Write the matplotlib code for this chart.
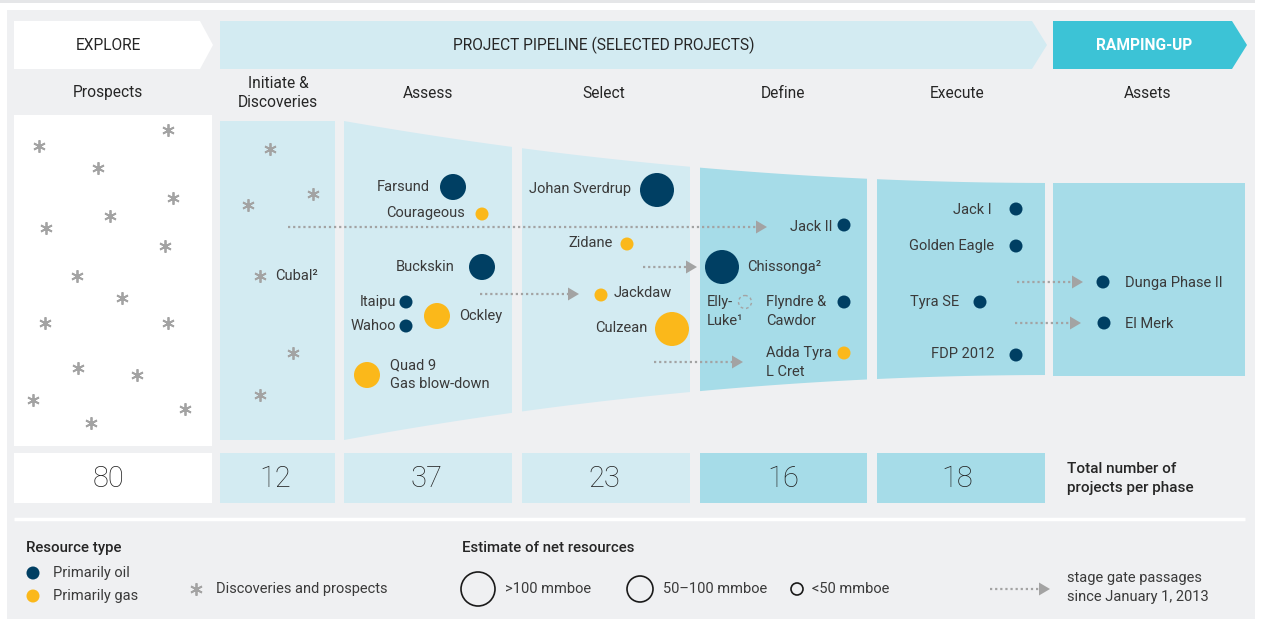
import numpy as np
import matplotlib.pyplot as plt
from matplotlib.patches import Polygon, Rectangle, Circle

plt.rcParams['font.family'] = ['Roboto', 'DejaVu Sans']

# ---- data ----
stages = ['EXPLORE', 'PROJECT PIPELINE (SELECTED PROJECTS)', 'RAMPING-UP']
phases = ['Prospects', 'Initiate &\nDiscoveries', 'Assess', 'Select', 'Define', 'Execute', 'Assets']
phase_counts = [80, 12, 37, 23, 16, 18]

proj_names = ['Farsund', 'Courageous', 'Buckskin', 'Itaipu', 'Wahoo', 'Ockley',
              'Quad 9\nGas blow-down', 'Johan Sverdrup', 'Zidane', 'Jackdaw', 'Culzean',
              'Jack II', 'Chissonga²', 'Elly-\nLuke¹', 'Flyndre &\nCawdor', 'Adda Tyra\nL Cret',
              'Jack I', 'Golden Eagle', 'Tyra SE', 'FDP 2012', 'Dunga Phase II', 'El Merk']
proj_type = ['oil', 'gas', 'oil', 'oil', 'oil', 'gas', 'gas', 'oil', 'gas', 'gas', 'gas',
             'oil', 'oil', 'n/a', 'oil', 'gas', 'oil', 'oil', 'oil', 'oil', 'oil', 'oil']
proj_size = ['mid', 'small', 'mid', 'small', 'small', 'mid', 'mid', 'large', 'small', 'small', 'large',
             'small', 'large', 'small', 'small', 'small', 'small', 'small', 'small', 'small', 'small', 'small']

size_labels = ['>100 mmboe', '50\u2013100 mmboe', '<50 mmboe']

# ---- layout (pixels) ----
W, H = 1262, 619
col_x = [(14, 212), (220, 335), (344, 512), (522, 690), (700, 867), (877, 1045), (1053, 1245)]
title_x = [108, 278, 428, 604, 783, 957, 1148]
count_x = [108, 275, 427, 604, 783, 957]
proj_xy = [(453, 187), (482, 214), (482, 267), (406, 302), (406, 326), (437, 316), (367, 375),
           (657, 190), (627, 244), (601, 295), (672, 329),
           (844, 225), (722, 267), (745, 302), (844, 302), (844, 353),
           (1016, 209), (1016, 246), (980, 302), (1016, 355), (1103, 282), (1104, 323)]
label_xy = [(430, 187, 'right'), (465, 213, 'right'), (455, 267, 'right'), (396, 302, 'right'),
            (396, 326, 'right'), (459, 316, 'left'), (390, 365, 'left'),
            (631, 189, 'right'), (613, 243, 'right'), (614, 293, 'left'), (647, 328, 'right'),
            (832, 227, 'right'), (747, 267, 'left'), (707, 302, 'left'), (766, 302, 'left'),
            (766, 353, 'left'), (992, 210, 'right'), (994, 246, 'right'), (959, 302, 'right'),
            (994, 354, 'right'), (1125, 283, 'left'), (1125, 324, 'left')]
radius = {'large': 17, 'mid': 13, 'small': 6.5}
prospect_xy = [(39, 146), (98, 168), (168, 130), (173, 198), (110, 216), (46, 228), (165, 246),
               (77, 276), (122, 298), (45, 323), (168, 323), (78, 368), (137, 375), (33, 400),
               (185, 409), (91, 423)]
discovery_xy = [(270, 149), (248, 205), (313, 194), (260, 276), (293, 353), (260, 395)]
arrows = [((288, 227), (767, 227)), ((480, 294), (579, 294)), ((643, 267), (697, 267)),
          ((654, 362), (743, 362)), ((1017, 282), (1083, 282)), ((1015, 323), (1081, 323))]

OIL = '#003f63'
GAS = '#fbb81a'
LIGHT = '#d3ebf2'
DARK = '#a6dce8'
TEAL = '#3cc3d6'
TXT = '#3a3a3a'
HEAD = '#262626'
GREY = '#a3a3a3'
type_color = {'oil': OIL, 'gas': GAS}

fig = plt.figure(figsize=(W / 100, H / 100), dpi=100)
ax = fig.add_axes([0, 0, 1, 1])
ax.set_xlim(0, W)
ax.set_ylim(H, 0)
ax.axis('off')

# background
ax.add_patch(Rectangle((0, 0), 1255, 3, color='#e5e6e8', lw=0))
ax.add_patch(Rectangle((7, 10), 1248, H - 10, color='#eff0f2', lw=0))


def chevron(x0, x1, tip, color):
    pts = [(x0, 21), (x1, 21), (tip, 45), (x1, 69), (x0, 69)]
    ax.add_patch(Polygon(pts, closed=True, color=color, lw=0))


chevron(14, 200, 213, 'white')
chevron(220, 1032, 1047, LIGHT)
chevron(1053, 1232, 1247, TEAL)
ax.text(108, 45, stages[0], ha='center', va='center', fontsize=11.2, color=HEAD)
ax.text(604, 45, stages[1], ha='center', va='center', fontsize=11.2, color=HEAD)
ax.text(1144, 45, stages[2], ha='center', va='center', fontsize=11.2, color='white', fontweight='bold')

# phase titles
for tx, name in zip(title_x, phases):
    ax.text(tx, 93, name, ha='center', va='center', fontsize=11.2,
            color=HEAD, linespacing=1.3)


# columns / funnel
def funnel(x):
    t = (x - 344) / 709
    return 183 - 62 * (1 - t) ** 2, 375 + 65 * (1 - t) ** 2


ax.add_patch(Rectangle((14, 115), 198, 331, color='white', lw=0))
ax.add_patch(Rectangle((220, 121), 115, 319, color=LIGHT, lw=0))
for i in range(2, 6):
    x0, x1 = col_x[i]
    xs = np.linspace(x0, x1, 50)
    top, bot = funnel(xs)
    pts = list(zip(xs, top)) + list(zip(xs[::-1], bot[::-1]))
    ax.add_patch(Polygon(pts, closed=True, color=LIGHT if i < 4 else DARK, lw=0))
ax.add_patch(Rectangle((1053, 183), 192, 193, color=DARK, lw=0))

# asterisks
ast = (6, 2, 0)
px, py = zip(*prospect_xy)
ax.plot(px, py, ls='none', marker=ast, ms=9, mew=1.3, color=GREY)
dx, dy = zip(*discovery_xy)
ax.plot(dx, dy, ls='none', marker=ast, ms=9, mew=1.3, color=GREY)
ax.text(275, 276, 'Cubal²', ha='left', va='center', fontsize=10.5, color=TXT)


def draw_arrow(p0, p1):
    (x0, y0), (x1, y1) = p0, p1
    ax.plot([x0, x1 - 11], [y0, y1], color=GREY, lw=1.6, ls=(0, (1, 1.3)),
            solid_capstyle='butt', dash_capstyle='butt')
    ax.add_patch(Polygon([(x1 - 11, y1 - 6.5), (x1, y1), (x1 - 11, y1 + 6.5)],
                         closed=True, color=GREY, lw=0))


for a, b in arrows:
    draw_arrow(a, b)

# projects
for name, t, s, (x, y), (lx, ly, ha) in zip(proj_names, proj_type, proj_size, proj_xy, label_xy):
    r = radius[s]
    if t in type_color:
        ax.add_patch(Circle((x, y), r, color=type_color[t], lw=0))
    else:
        ax.add_patch(Circle((x, y), r, fill=False, ec=GREY, lw=1, ls=(0, (2, 2))))
    for k, line in enumerate(name.split('\n')):
        ax.text(lx, ly + k * 19, line, ha=ha, va='center', fontsize=10.5, color=TXT)

# counts row
for i, ((x0, x1), cx, n) in enumerate(zip(col_x[:6], count_x, phase_counts)):
    c = 'white' if i == 0 else (LIGHT if i < 4 else DARK)
    ax.add_patch(Rectangle((x0, 453), x1 - x0, 50, color=c, lw=0))
    ax.text(cx, 479, str(n), ha='center', va='center', fontsize=21,
            color='#222222', fontweight='light')
ax.text(1067, 469, 'Total number of', ha='left', va='center', fontsize=11, color=HEAD,
        fontweight='medium')
ax.text(1067, 488, 'projects per phase', ha='left', va='center', fontsize=11, color=HEAD,
        fontweight='medium')

ax.plot([14, 1245], [519, 519], color='white', lw=2.5, solid_capstyle='butt')

# legend
ax.text(26, 548, 'Resource type', ha='left', va='center', fontsize=10.8, color=HEAD,
        fontweight='medium')
ax.add_patch(Circle((33, 573), 6.5, color=OIL, lw=0))
ax.text(53, 573, 'Primarily oil', ha='left', va='center', fontsize=10.5, color=TXT)
ax.add_patch(Circle((33, 596), 6.5, color=GAS, lw=0))
ax.text(53, 596, 'Primarily gas', ha='left', va='center', fontsize=10.5, color=TXT)
ax.plot([196], [589], ls='none', marker=ast, ms=9, mew=1.3, color=GREY)
ax.text(216, 589, 'Discoveries and prospects', ha='left', va='center', fontsize=10.5, color=TXT)

ax.text(462, 548, 'Estimate of net resources', ha='left', va='center', fontsize=10.8,
        color=HEAD, fontweight='medium')
for (cx, tx), s, lab in zip([(478, 505), (640, 663), (797, 812)], ['large', 'mid', 'small'], size_labels):
    ax.add_patch(Circle((cx, 589), radius[s] - (0.5 if s == 'small' else 0), fill=False,
                        ec='#1a1a1a', lw=1.2))
    ax.text(tx, 589, lab, ha='left', va='center', fontsize=10.5, color=TXT)

draw_arrow((990, 589), (1050, 589))
ax.text(1067, 578, 'stage gate passages', ha='left', va='center', fontsize=10.5, color=TXT)
ax.text(1067, 597, 'since January 1, 2013', ha='left', va='center', fontsize=10.5, color=TXT)

fig.savefig('out.png', dpi=100)
